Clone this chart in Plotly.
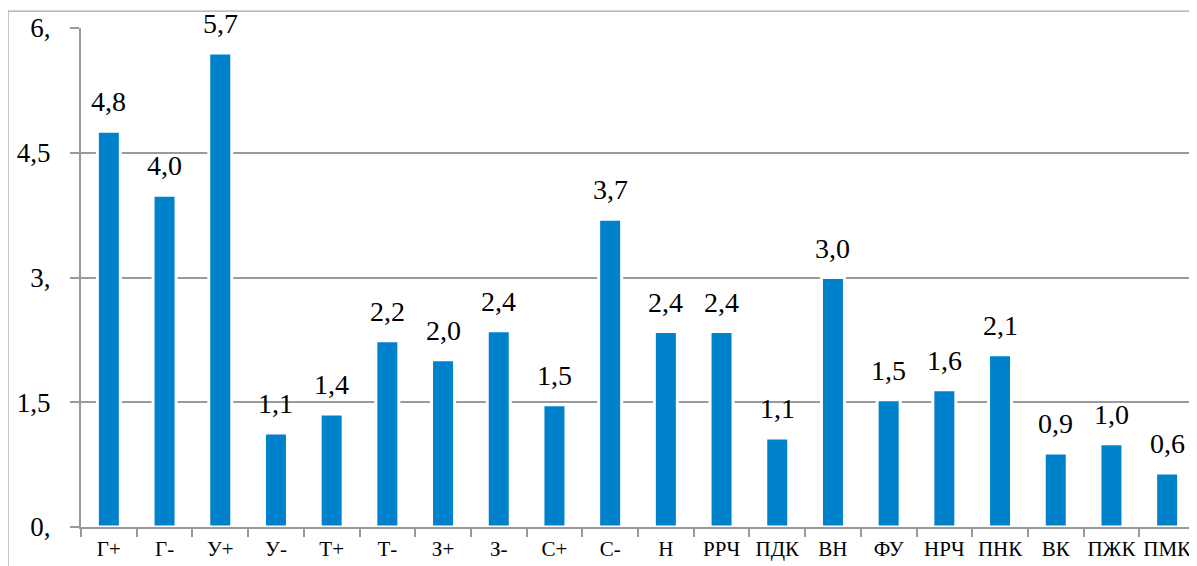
import plotly.graph_objects as go

categories = ["Г+", "Г-", "У+", "У-", "Т+", "Т-", "З+", "З-", "С+", "С-",
              "Н", "РРЧ", "ПДК", "ВН", "ФУ", "НРЧ", "ПНК", "ВК", "ПЖК", "ПМК"]
values = [4.76, 3.99, 5.70, 1.13, 1.36, 2.24, 2.01, 2.36, 1.47, 3.70,
          2.35, 2.35, 1.07, 3.00, 1.53, 1.65, 2.07, 0.89, 1.00, 0.65]
value_labels = ["4,8", "4,0", "5,7", "1,1", "1,4", "2,2", "2,0", "2,4", "1,5", "3,7",
                "2,4", "2,4", "1,1", "3,0", "1,5", "1,6", "2,1", "0,9", "1,0", "0,6"]
y_ticks = [0, 1.5, 3, 4.5, 6]
y_tick_labels = ["0,", "1,5", "3,", "4,5", "6,"]

FONT = "Liberation Serif"
GRID = "#9a9a9a"

fig = go.Figure()
fig.add_trace(go.Bar(
    x=categories, y=values,
    marker=dict(color="#0081CC", line=dict(color="white", width=3)),
    hoverinfo="x+y",
))

for c, v, t in zip(categories, values, value_labels):
    fig.add_annotation(x=c, y=v, text=t, showarrow=False, yanchor="bottom",
                       yshift=12, font=dict(family=FONT, size=28, color="black"))

# outer chart border
fig.add_shape(type="rect", xref="paper", yref="paper",
              x0=-0.0655, y0=-0.3, x1=1.05, y1=1.034,
              line=dict(color="#a6a6a6", width=1.2), layer="below")

fig.update_layout(
    width=1189, height=558,
    margin=dict(l=73, r=2, t=20, b=39),
    paper_bgcolor="white", plot_bgcolor="white",
    bargap=0.587, showlegend=False,
    font=dict(family=FONT, color="black"),
)
fig.update_xaxes(
    type="category", showgrid=False, showline=True, linecolor=GRID, linewidth=2,
    ticks="outside", tickson="boundaries", ticklen=8, tickwidth=2, tickcolor=GRID,
    tickfont=dict(family=FONT, size=21, color="black"), tickangle=0,
    ticklabelstandoff=2,
)
fig.update_yaxes(
    range=[0, 6], tickvals=y_ticks, ticktext=y_tick_labels,
    showgrid=True, gridcolor=GRID, gridwidth=2,
    showline=True, linecolor=GRID, linewidth=2,
    ticks="outside", ticklen=9, tickwidth=2, tickcolor=GRID,
    tickfont=dict(family=FONT, size=27, color="black"),
    ticklabelstandoff=14, zeroline=False,
)

fig.write_html("out.html")
